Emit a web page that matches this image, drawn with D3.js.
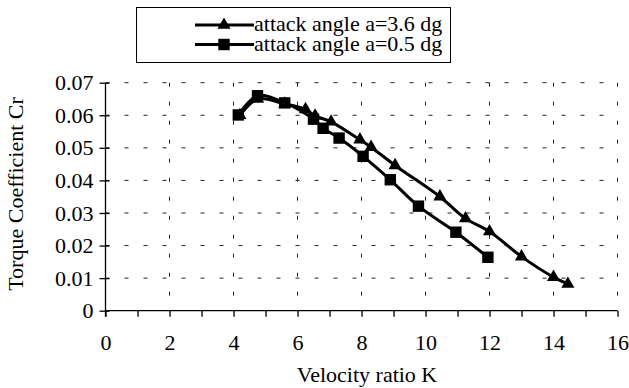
<!DOCTYPE html>
<html>
<head>
<meta charset="utf-8">
<script src="https://cdn.jsdelivr.net/npm/d3@7"></script>
<style>
  body { margin: 0; background: #fff; }
  text { font-family: "Liberation Serif", "Times New Roman", serif; fill: #000; }
</style>
</head>
<body>
<div id="chart"></div>
<script>
var svgWidth = 629;
var svgHeight = 388;

// series: attack angle a=3.6 dg (triangles)
var kTri = [4.2, 4.75, 5.6, 6.25, 6.55, 7.05, 7.95, 8.3, 9.05, 10.45, 11.25, 12.0, 13.0, 14.0, 14.45];
var crTri = [0.0600, 0.0650, 0.0635, 0.0618, 0.0598, 0.0580, 0.0525, 0.0502, 0.0446, 0.0350, 0.0283, 0.0243, 0.0166, 0.0103, 0.0082];

// series: attack angle a=0.5 dg (squares)
var kSq = [4.15, 4.75, 5.6, 6.5, 6.8, 7.3, 8.05, 8.9, 9.78, 10.95, 11.95];
var crSq = [0.0601, 0.0660, 0.0638, 0.0588, 0.0560, 0.0530, 0.0474, 0.0402, 0.0321, 0.0241, 0.0164];

var seriesNames = ["attack angle a=3.6 dg", "attack angle a=0.5 dg"];

var xTicks = [0, 1, 2, 3, 4, 5, 6, 7, 8, 9, 10, 11, 12, 13, 14, 15, 16];
var xGrid = [2, 4, 6, 8, 10, 12, 14, 16];
var yTicks = [0, 0.01, 0.02, 0.03, 0.04, 0.05, 0.06, 0.07];

var margin = { top: 82.7, right: 11.5, bottom: 77.3, left: 105.5 };
var width = svgWidth - margin.left - margin.right;
var height = svgHeight - margin.top - margin.bottom;

var svg = d3.select("#chart")
  .append("svg")
  .attr("width", svgWidth)
  .attr("height", svgHeight);

var chartGroup = svg.append("g")
  .attr("transform", `translate(${margin.left}, ${margin.top})`);

var x = d3.scaleLinear().domain([0, 16]).range([0, width]);
var y = d3.scaleLinear().domain([0, 0.07]).range([height, 0]);

// dashed grid
chartGroup.selectAll(".hgrid")
  .data(yTicks.filter(d => d > 0))
  .enter()
  .append("line")
  .attr("x1", 0).attr("x2", width)
  .attr("y1", d => y(d)).attr("y2", d => y(d))
  .attr("stroke", "#222")
  .attr("stroke-width", 1)
  .attr("stroke-dasharray", "4,15");

chartGroup.selectAll(".vgrid")
  .data(xGrid)
  .enter()
  .append("line")
  .attr("x1", d => x(d)).attr("x2", d => x(d))
  .attr("y1", 0).attr("y2", height)
  .attr("stroke", "#222")
  .attr("stroke-width", 1)
  .attr("stroke-dasharray", "4,15");

// axes
var bottomAxis = d3.axisBottom(x)
  .tickValues(xTicks)
  .tickSize(6)
  .tickFormat(d => d % 2 === 0 ? d : "");

var leftAxis = d3.axisLeft(y)
  .tickValues(yTicks)
  .tickSize(6)
  .tickFormat(d => d === 0 ? "0" : d3.format(".2f")(d));

var gx = chartGroup.append("g")
  .attr("transform", `translate(0, ${height})`)
  .call(bottomAxis);
gx.select(".domain").attr("d", `M0,0H${width}`).attr("stroke", "#000").attr("stroke-width", 1.3);
gx.selectAll(".tick line").attr("stroke", "#000").attr("stroke-width", 1.3);
gx.selectAll(".tick text")
  .attr("y", 24)
  .attr("dy", "0.71em")
  .style("font-size", "22px")
  .style("font-family", "Liberation Serif, serif");

var gy = chartGroup.append("g").call(leftAxis);
gy.select(".domain").attr("d", `M0,${height + 6}V0`).attr("stroke", "#000").attr("stroke-width", 1.3);
gy.selectAll(".tick line").attr("x1", 4).attr("x2", -6).attr("stroke", "#000").attr("stroke-width", 1.3);
gy.selectAll(".tick text")
  .attr("x", -12)
  .style("font-size", "22px")
  .style("font-family", "Liberation Serif, serif");

// lines and markers
var line = d3.line()
  .x(d => x(d[0]))
  .y(d => y(d[1]))
  .curve(d3.curveCatmullRom.alpha(0.5));

var triData = kTri.map((k, i) => [k, crTri[i]]);
var sqData = kSq.map((k, i) => [k, crSq[i]]);

var triSymbol = d3.symbol().type(d3.symbolTriangle).size(75);
var sqSymbol = d3.symbol().type(d3.symbolSquare).size(130);

function drawSeries(data, symbol) {
  chartGroup.append("path")
    .datum(data)
    .attr("d", line)
    .attr("fill", "none")
    .attr("stroke", "#000")
    .attr("stroke-width", 3);
  chartGroup.selectAll(null)
    .data(data)
    .enter()
    .append("path")
    .attr("d", symbol)
    .attr("transform", d => `translate(${x(d[0])}, ${y(d[1])})`)
    .attr("fill", "#000");
}

drawSeries(triData, triSymbol);
drawSeries(sqData, sqSymbol);

// axis titles
chartGroup.append("text")
  .attr("transform", "rotate(-90)")
  .attr("y", 23 - margin.left)
  .attr("x", margin.top - 194)
  .attr("text-anchor", "middle")
  .style("font-size", "22px")
  .text("Torque Coefficient Cr");

chartGroup.append("text")
  .attr("x", 367 - margin.left)
  .attr("y", 382 - margin.top)
  .attr("text-anchor", "middle")
  .style("font-size", "22px")
  .text("Velocity ratio K");

// legend
var legend = svg.append("g");
legend.append("rect")
  .attr("x", 136.5).attr("y", 7.5)
  .attr("width", 314).attr("height", 55)
  .attr("fill", "#fff")
  .attr("stroke", "#000")
  .attr("stroke-width", 1);

var legendY = [25, 44.5];
var legendSymbols = [triSymbol, sqSymbol];
seriesNames.forEach(function(name, i) {
  legend.append("line")
    .attr("x1", 195).attr("x2", 254)
    .attr("y1", legendY[i]).attr("y2", legendY[i])
    .attr("stroke", "#000")
    .attr("stroke-width", 3);
  legend.append("path")
    .attr("d", legendSymbols[i])
    .attr("transform", `translate(224, ${legendY[i]})`)
    .attr("fill", "#000");
  legend.append("text")
    .attr("x", 254)
    .attr("y", legendY[i] + 6)
    .style("font-size", "22px")
    .text(name);
});
</script>
</body>
</html>
